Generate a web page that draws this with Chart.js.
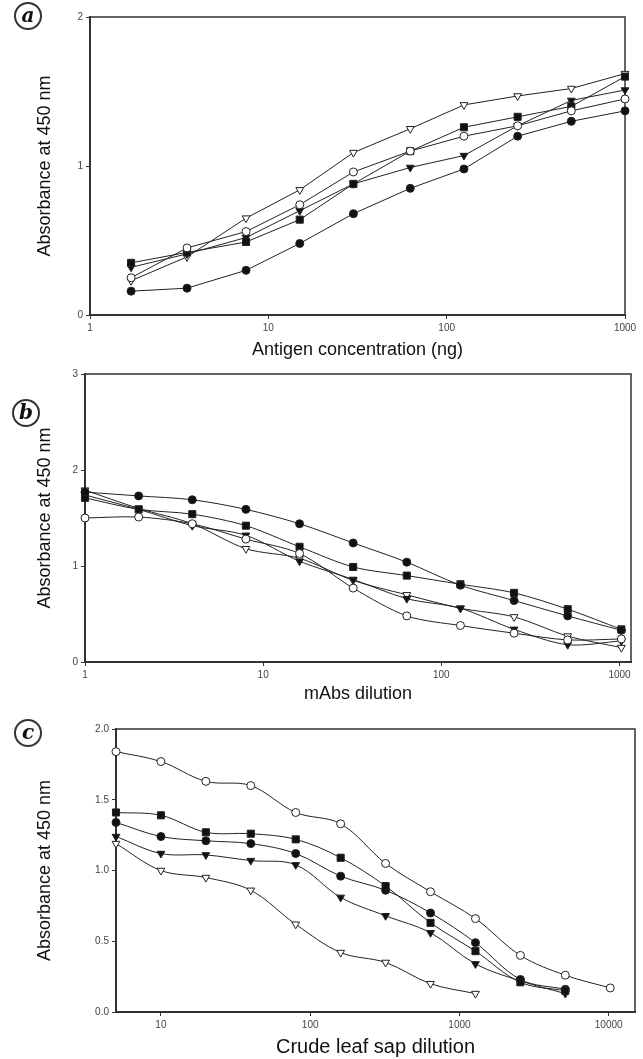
<!DOCTYPE html>
<html lang="en">
<head>
<meta charset="UTF-8">
<title>ELISA curves</title>
<script src="https://cdn.jsdelivr.net/npm/chart.js"></script>
<style>
  body { margin: 0; background: #fff; }
  #page { position: relative; width: 643px; height: 1059px; overflow: hidden; }
  canvas { position: absolute; left: 0; }
  .tag {
    position: absolute; width: 24px; height: 24px;
    border: 2px solid #333; border-radius: 50%;
    font: italic bold 20px "DejaVu Serif", serif;
    text-align: center; line-height: 22px; color: #111;
  }
</style>
</head>
<body>
<div id="page">
  <canvas id="chartA" width="643" height="362" style="top:0"></canvas>
  <canvas id="chartB" width="643" height="343" style="top:362px"></canvas>
  <canvas id="chartC" width="643" height="354" style="top:705px"></canvas>
  <div class="tag" style="left:14px;top:2px">a</div>
  <div class="tag" style="left:12px;top:399px">b</div>
  <div class="tag" style="left:14px;top:719px">c</div>
</div>
<script>
// panel a - antigen concentration (ng)
const xA = [1.7, 3.5, 7.5, 15, 30, 62.5, 125, 250, 500, 1000];
const aFillCircle = [0.16, 0.18, 0.30, 0.48, 0.68, 0.85, 0.98, 1.20, 1.30, 1.37];
const aOpenCircle = [0.25, 0.45, 0.56, 0.74, 0.96, 1.10, 1.20, 1.27, 1.37, 1.45];
const aFillSquare = [0.35, 0.42, 0.49, 0.64, 0.88, 1.10, 1.26, 1.33, 1.40, 1.60];
const aFillTri    = [0.32, 0.41, 0.52, 0.70, 0.88, 0.99, 1.07, 1.27, 1.44, 1.51];
const aOpenTri    = [0.23, 0.39, 0.65, 0.84, 1.09, 1.25, 1.41, 1.47, 1.52, 1.62];
const ticksA = [1, 10, 100, 1000];

// panel b - mAbs dilution
const xB = [1, 2, 4, 8, 16, 32, 64, 128, 256, 512, 1024];
const bFillCircle = [1.77, 1.73, 1.69, 1.59, 1.44, 1.24, 1.04, 0.80, 0.64, 0.48, 0.33];
const bOpenCircle = [1.50, 1.51, 1.44, 1.28, 1.13, 0.77, 0.48, 0.38, 0.30, 0.23, 0.24];
const bFillSquare = [1.71, 1.59, 1.54, 1.42, 1.20, 0.99, 0.90, 0.81, 0.72, 0.55, 0.34];
const bFillTri    = [1.74, 1.59, 1.42, 1.32, 1.05, 0.86, 0.66, 0.56, 0.34, 0.18, 0.22];
const bOpenTri    = [1.79, 1.60, 1.44, 1.18, 1.08, 0.85, 0.70, 0.56, 0.47, 0.27, 0.15];
const ticksB = [1, 10, 100, 1000];

// panel c - crude leaf sap dilution
const xC = [5, 10, 20, 40, 80, 160, 320, 640, 1280, 2560, 5120, 10240];
const cOpenCircle = [1.84, 1.77, 1.63, 1.60, 1.41, 1.33, 1.05, 0.85, 0.66, 0.40, 0.26, 0.17];
const cFillSquare = [1.41, 1.39, 1.27, 1.26, 1.22, 1.09, 0.89, 0.63, 0.43, 0.21, 0.15];
const cFillCircle = [1.34, 1.24, 1.21, 1.19, 1.12, 0.96, 0.86, 0.70, 0.49, 0.23, 0.16];
const cFillTri    = [1.24, 1.12, 1.11, 1.07, 1.04, 0.81, 0.68, 0.56, 0.34, 0.22, 0.13];
const cOpenTri    = [1.19, 1.00, 0.95, 0.86, 0.62, 0.42, 0.35, 0.20, 0.13];
const ticksC = [10, 100, 1000, 10000];

const ink = '#222';
const markers = {
  fillCircle: { pointStyle: 'circle', pointRadius: 4, pointBackgroundColor: '#111' },
  openCircle: { pointStyle: 'circle', pointRadius: 4, pointBackgroundColor: '#fff' },
  fillSquare: { pointStyle: 'rect', pointRadius: 5, pointBackgroundColor: '#111' },
  fillTri: { pointStyle: 'triangle', pointRotation: 180, pointRadius: 4.5, pointBackgroundColor: '#111' },
  openTri: { pointStyle: 'triangle', pointRotation: 180, pointRadius: 4.5, pointBackgroundColor: '#fff' }
};

function series(xs, ys, kind, tension) {
  return Object.assign({
    data: ys.map((y, i) => ({ x: xs[i], y: y })),
    borderColor: ink,
    borderWidth: 1,
    pointBorderColor: ink,
    pointBorderWidth: 1,
    tension: tension,
    clip: false
  }, markers[kind]);
}

// box around the plot area
const frame = {
  id: 'frame',
  beforeDatasetsDraw(chart) {
    const a = chart.chartArea, c = chart.ctx;
    c.save();
    c.strokeStyle = '#333';
    c.lineWidth = 1.5;
    c.strokeRect(a.left, a.top, a.right - a.left, a.bottom - a.top);
    c.restore();
  }
};

function makeChart(id, opts) {
  new Chart(document.getElementById(id), {
    type: 'line',
    data: { datasets: opts.datasets },
    plugins: [frame],
    options: {
      responsive: false,
      animation: false,
      layout: { padding: opts.padding },
      plugins: { legend: { display: false }, tooltip: { enabled: false } },
      scales: {
        x: {
          type: 'logarithmic',
          min: opts.xMin, max: opts.xMax,
          afterBuildTicks: s => { s.ticks = opts.xTicks.map(v => ({ value: v })); },
          afterFit: s => { s.height = opts.xHeight; },
          ticks: {
            callback: v => String(v),
            font: { family: 'Liberation Sans', size: 10 },
            color: '#444', maxRotation: 0, padding: 3
          },
          grid: { display: true, drawOnChartArea: false, tickLength: 4, color: '#333' },
          border: { display: true, color: '#333', width: 2 },
          title: {
            display: true, text: opts.xTitle, color: '#111',
            font: { family: 'Liberation Sans', size: opts.xTitleSize },
            padding: { top: 0, bottom: opts.xTitlePad }
          }
        },
        y: {
          type: 'linear',
          min: 0, max: opts.yMax,
          afterFit: s => { s.width = opts.yWidth; },
          ticks: {
            stepSize: opts.yStep,
            callback: opts.yFmt,
            font: { family: 'Liberation Sans', size: 10 },
            color: '#444', padding: 3
          },
          grid: { display: true, drawOnChartArea: false, tickLength: 4, color: '#333' },
          border: { display: true, color: '#333', width: 2 },
          title: {
            display: true, text: 'Absorbance at 450 nm', color: '#111',
            font: { family: 'Liberation Sans', size: 18 },
            padding: { top: 34, bottom: 0 }
          }
        }
      }
    }
  });
}

makeChart('chartA', {
  padding: { top: 17, right: 18, left: 0, bottom: 0 },
  xMin: 1, xMax: 1000, xTicks: ticksA, xHeight: 47,
  xTitle: 'Antigen concentration (ng)', xTitleSize: 18, xTitlePad: 1,
  yMax: 2, yStep: 1, yFmt: v => String(v), yWidth: 90,
  datasets: [
    series(xA, aFillCircle, 'fillCircle', 0),
    series(xA, aOpenCircle, 'openCircle', 0),
    series(xA, aFillSquare, 'fillSquare', 0),
    series(xA, aFillTri, 'fillTri', 0),
    series(xA, aOpenTri, 'openTri', 0)
  ]
});

makeChart('chartB', {
  padding: { top: 12, right: 12, left: 0, bottom: 0 },
  xMin: 1, xMax: 1160, xTicks: ticksB, xHeight: 43,
  xTitle: 'mAbs dilution', xTitleSize: 18, xTitlePad: 0,
  yMax: 3, yStep: 1, yFmt: v => String(v), yWidth: 85,
  datasets: [
    series(xB, bFillCircle, 'fillCircle', 0.3),
    series(xB, bOpenCircle, 'openCircle', 0.3),
    series(xB, bFillSquare, 'fillSquare', 0.3),
    series(xB, bFillTri, 'fillTri', 0.3),
    series(xB, bOpenTri, 'openTri', 0.3)
  ]
});

makeChart('chartC', {
  padding: { top: 24, right: 8, left: 0, bottom: 0 },
  xMin: 5, xMax: 15000, xTicks: ticksC, xHeight: 47,
  xTitle: 'Crude leaf sap dilution', xTitleSize: 20, xTitlePad: 0,
  yMax: 2, yStep: 0.5, yFmt: v => v.toFixed(1), yWidth: 116,
  datasets: [
    series(xC, cOpenCircle, 'openCircle', 0.35),
    series(xC, cFillSquare, 'fillSquare', 0.35),
    series(xC, cFillCircle, 'fillCircle', 0.35),
    series(xC, cFillTri, 'fillTri', 0.35),
    series(xC, cOpenTri, 'openTri', 0.35)
  ]
});
</script>
</body>
</html>
